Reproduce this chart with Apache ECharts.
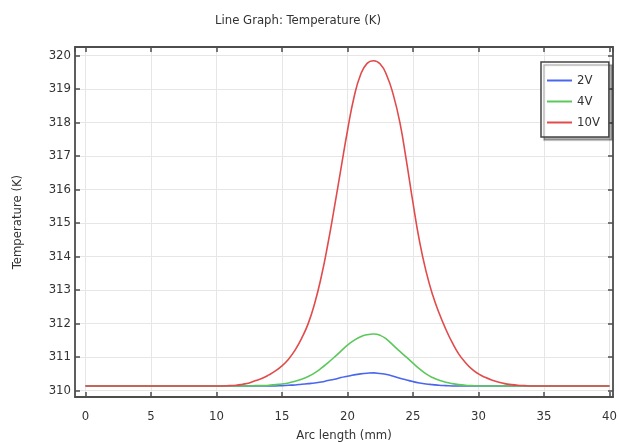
<!DOCTYPE html>
<html>
<head>
<meta charset="utf-8">
<script src="https://cdn.jsdelivr.net/npm/echarts@6/dist/echarts.min.js"></script>
<style>
html,body{margin:0;padding:0;background:#fff;}
#chart{width:619px;height:442px;}
</style>
</head>
<body>
<div id="chart"></div>
<script>
const seriesNames = ['2V', '4V', '10V'];
const seriesColors = ['#4a66ee', '#5cc85c', '#e24b4b'];

const blue2V = [[0,310.13],[2,310.13],[4,310.13],[6,310.13],[8,310.13],[10,310.13],[12,310.13],[13,310.13],[14,310.13],[14.5,310.13],[15,310.14],[15.5,310.15],[16,310.16],[16.5,310.18],[17,310.20],[17.5,310.22],[18,310.25],[18.5,310.29],[19,310.33],[19.5,310.38],[20,310.42],[20.5,310.46],[21,310.49],[21.5,310.51],[22,310.52],[22.5,310.50],[23,310.47],[23.5,310.42],[24,310.36],[24.5,310.31],[25,310.26],[25.5,310.22],[26,310.19],[26.5,310.17],[27,310.15],[27.5,310.14],[28,310.13],[29,310.13],[30,310.13],[32,310.13],[34,310.13],[36,310.13],[38,310.13],[40,310.13]];

const green4V = [[0,310.13],[2,310.13],[4,310.13],[6,310.13],[8,310.13],[10,310.13],[11,310.13],[12,310.13],[12.5,310.13],[13,310.14],[13.5,310.14],[14,310.15],[14.5,310.17],[15,310.19],[15.5,310.22],[16,310.27],[16.5,310.33],[17,310.41],[17.5,310.52],[18,310.66],[18.5,310.82],[19,310.99],[19.5,311.17],[20,311.35],[20.5,311.49],[21,311.60],[21.5,311.66],[22,311.68],[22.5,311.64],[23,311.52],[23.5,311.34],[24,311.16],[24.5,310.99],[25,310.81],[25.5,310.64],[26,310.49],[26.5,310.38],[27,310.30],[27.5,310.24],[28,310.20],[28.5,310.17],[29,310.15],[29.5,310.14],[30,310.13],[31,310.13],[32,310.13],[34,310.13],[36,310.13],[38,310.13],[40,310.13]];

const red10V = [[0,310.13],[2,310.13],[4,310.13],[6,310.13],[8,310.13],[9,310.13],[10,310.13],[10.5,310.13],[11,310.14],[11.5,310.15],[12,310.18],[12.5,310.22],[13,310.29],[13.5,310.36],[14,310.46],[14.5,310.58],[15,310.73],[15.5,310.93],[16,311.20],[16.5,311.55],[17,311.99],[17.5,312.60],[18,313.39],[18.5,314.36],[19,315.46],[19.5,316.61],[20,317.75],[20.5,318.75],[21,319.42],[21.5,319.76],[22,319.84],[22.5,319.74],[23,319.40],[23.5,318.82],[24,318.00],[24.5,316.85],[25,315.60],[25.5,314.45],[26,313.55],[26.5,312.85],[27,312.30],[27.5,311.83],[28,311.42],[28.5,311.08],[29,310.83],[29.5,310.63],[30,310.49],[30.5,310.39],[31,310.31],[31.5,310.25],[32,310.20],[32.5,310.17],[33,310.15],[33.5,310.14],[34,310.13],[35,310.13],[36,310.13],[38,310.13],[40,310.13]];

const seriesData = [blue2V, green4V, red10V];

const FONT = "'DejaVu Sans Condensed', 'Liberation Sans Narrow', sans-serif";
const FRAME = '#4d4d4d';
const FS = 13;

const chart = echarts.init(document.getElementById('chart'), null, {renderer: 'canvas'});

const tickCommon = {show: true, inside: true, length: 5, lineStyle: {color: FRAME, width: 1.5}};
const lineCommon = {show: true, onZero: false, lineStyle: {color: FRAME, width: 1.8}};

chart.setOption({
  animation: false,
  backgroundColor: '#fff',
  title: {
    text: 'Line Graph: Temperature (K)',
    left: 210, top: 9,
    textStyle: {fontFamily: FONT, fontSize: FS, fontWeight: 'normal', color: '#333'}
  },
  grid: {left: 75, top: 47, right: 6, bottom: 45, containLabel: false, outerBoundsMode: 'none'},
  legend: {
    orient: 'vertical',
    left: 541, top: 62,
    padding: [12, 9, 8, 6],
    itemWidth: 25, itemHeight: 14, itemGap: 8,
    icon: 'path://M0,0 H25 V2 H0 Z',
    backgroundColor: '#fff',
    borderColor: '#444', borderWidth: 1.5, borderRadius: 0,
    shadowColor: 'rgba(0,0,0,0.3)', shadowBlur: 1, shadowOffsetX: 3, shadowOffsetY: 3,
    textStyle: {fontFamily: FONT, fontSize: FS, color: '#333'},
    data: seriesNames
  },
  xAxis: [{
    type: 'value', min: -0.8, max: 40.27, splitNumber: 8,
    position: 'bottom',
    name: 'Arc length (mm)', nameLocation: 'middle', nameGap: 32,
    nameTextStyle: {fontFamily: FONT, fontSize: FS, color: '#333'},
    axisLine: lineCommon, axisTick: tickCommon,
    axisLabel: {fontFamily: FONT, fontSize: FS, color: '#333', margin: 13, showMinLabel: false, showMaxLabel: false},
    splitLine: {show: true, lineStyle: {color: '#e6e6e6', width: 1}}
  }, {
    type: 'value', min: -0.8, max: 40.27, splitNumber: 8,
    position: 'top',
    axisLine: lineCommon, axisTick: tickCommon,
    axisLabel: {show: false}, splitLine: {show: false}
  }],
  yAxis: [{
    type: 'value', min: 309.8, max: 320.25, splitNumber: 10,
    position: 'left',
    name: 'Temperature (K)', nameLocation: 'middle', nameGap: 51, nameRotate: 90,
    nameTextStyle: {fontFamily: FONT, fontSize: FS, color: '#333'},
    axisLine: lineCommon, axisTick: tickCommon,
    axisLabel: {fontFamily: FONT, fontSize: FS, color: '#333', margin: 4, showMinLabel: false, showMaxLabel: false},
    splitLine: {show: true, lineStyle: {color: '#e6e6e6', width: 1}}
  }, {
    type: 'value', min: 309.8, max: 320.25, splitNumber: 10,
    position: 'right',
    axisLine: lineCommon, axisTick: tickCommon,
    axisLabel: {show: false}, splitLine: {show: false}
  }],
  series: seriesNames.map((n, i) => ({
    name: n, type: 'line', xAxisIndex: 0, yAxisIndex: 0,
    data: seriesData[i], smooth: 0.5, symbol: 'none',
    lineStyle: {color: seriesColors[i], width: 1.6},
    itemStyle: {color: seriesColors[i]},
    z: 3
  }))
});
</script>
</body>
</html>
